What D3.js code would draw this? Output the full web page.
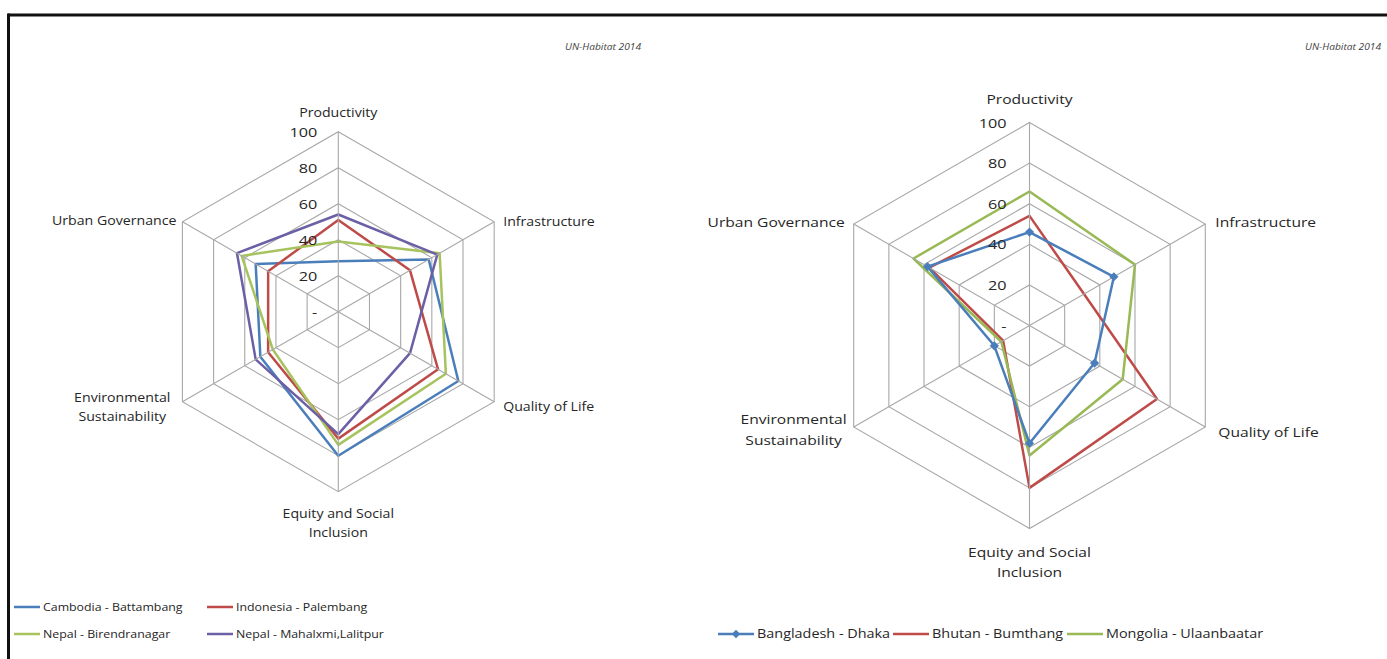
<!DOCTYPE html>
<html><head><meta charset="utf-8">
<script src="https://cdn.jsdelivr.net/npm/d3@7"></script>
<style>
body{margin:0;background:#fff}
svg{display:block}
text{font-family:"Open Sans",sans-serif;fill:#262626}
</style>
</head><body>
<svg id="c" width="1387" height="659"></svg>
<script>
// ---------- data ----------
const axes = ["Productivity","Infrastructure","Quality of Life","Equity and Social Inclusion","Environmental Sustainability","Urban Governance"];
const axisLabelLines = [["Productivity"],["Infrastructure"],["Quality of Life"],["Equity and Social","Inclusion"],["Environmental","Sustainability"],["Urban Governance"]];
const ticks = [0,20,40,60,80,100];
const tickLabels = ["-","20","40","60","80","100"];

const leftNames = ["Cambodia - Battambang","Indonesia - Palembang","Nepal - Birendranagar","Nepal - Mahalxmi,Lalitpur"];
const cambodia      = [28, 58, 77, 80, 50, 53];
const indonesia     = [51, 46, 64, 70.5, 45, 45];
const birendranagar = [39, 65, 69, 74, 42, 62];
const mahalaxmi     = [54, 63.5, 46, 68, 53, 65];

const rightNames = ["Bangladesh - Dhaka","Bhutan - Bumthang","Mongolia - Ulaanbaatar"];
const dhaka       = [46, 48, 37, 58, 20, 58];
const bumthang    = [54, 31, 72.5, 80, 15, 57];
const ulaanbaatar = [66, 60, 53, 64, 16, 66];

const sourceText = "UN-Habitat  2014";

// ---------- drawing ----------
const svg = d3.select("#c");
const SX = 1.2; // horizontal stretch of the text in the reference

// frame
svg.append("line").attr("x1",8).attr("x2",1387).attr("y1",15).attr("y2",15).attr("stroke","#111").attr("stroke-width",3);
svg.append("line").attr("x1",8.5).attr("x2",8.5).attr("y1",13.5).attr("y2",659).attr("stroke","#111").attr("stroke-width",3);

function stext(g, x, y, lines, opts){
  const t = g.append("text")
    .attr("transform",`translate(${x},${y}) scale(${SX},1)`)
    .attr("text-anchor", opts.anchor || "start")
    .style("font-size", opts.size + "px");
  if (opts.italic) t.style("font-style","italic");
  if (opts.fill) t.style("fill", opts.fill);
  lines.forEach((l,i)=>{
    t.append("tspan").attr("x",0).attr("dy", i===0 ? 0 : opts.lh).text(l);
  });
  return t;
}

function radar(cfg){
  const g = svg.append("g");
  const r = d3.scaleLinear().domain([0,100]).range([0,cfg.R]);
  const ang = d3.scaleLinear().domain([0,axes.length]).range([0,2*Math.PI]);
  const pt = (i,v)=>[cfg.cx + r(v)*Math.sin(ang(i)), cfg.cy - r(v)*Math.cos(ang(i))];
  const gg = g.append("g").attr("transform",`translate(${cfg.cx},${cfg.cy})`);
  const ring = d3.lineRadial().angle((d,i)=>ang(i)).curve(d3.curveLinearClosed);

  // grid rings
  ticks.filter(t=>t>0).forEach(t=>{
    gg.append("path").attr("d", ring.radius(()=>r(t))(axes))
      .attr("fill","none").attr("stroke","#a8a8a8").attr("stroke-width",1.1);
  });
  // spokes
  axes.forEach((a,i)=>{
    const p = pt(i,100);
    g.append("line").attr("x1",cfg.cx).attr("y1",cfg.cy).attr("x2",p[0]).attr("y2",p[1])
      .attr("stroke","#a8a8a8").attr("stroke-width",1.1);
  });
  // tick labels
  ticks.forEach((t,k)=>{
    stext(g, cfg.cx - cfg.tickGap, cfg.cy - r(t) + 5, [tickLabels[k]], {anchor:"end", size:cfg.tickSize});
  });
  // series
  cfg.series.forEach(s=>{
    gg.append("path").attr("d", d3.lineRadial().angle((d,i)=>ang(i)).radius(d=>r(d)).curve(d3.curveLinearClosed)(s.values))
      .attr("fill","none").attr("stroke",s.color).attr("stroke-width",2.5).attr("stroke-linejoin","round");
  });
  cfg.series.filter(s=>s.marker).forEach(s=>{
    s.values.forEach((v,i)=>{
      const p = pt(i,v);
      g.append("path").attr("d", d3.symbol().type(d3.symbolSquare).size(42)())
        .attr("transform",`translate(${p[0]},${p[1]}) rotate(45)`).attr("fill",s.color);
    });
  });
  // axis labels
  axes.forEach((a,i)=>{
    const p = pt(i,100), pl = cfg.place[i];
    const t = stext(g, p[0]+pl.dx, p[1]+pl.dy, axisLabelLines[i], {anchor:pl.anchor, size:cfg.labelSize, lh:cfg.labelLH});
    if (pl.fitRight !== undefined){
      const w = t.node().getBBox().width * SX;
      t.attr("transform",`translate(${p[0]-pl.fitRight-w/2},${p[1]+pl.dy}) scale(${SX},1)`);
    }
  });
  // source note
  stext(g, cfg.srcX, 50, [sourceText], {anchor:"end", size:8.5, italic:true, fill:"#444"});
  // legend
  cfg.legend.forEach((it,k)=>{
    const s = cfg.series.find(d=>d.name===it.name);
    g.append("line").attr("x1",it.x).attr("x2",it.x+cfg.legLine).attr("y1",it.y).attr("y2",it.y)
      .attr("stroke",s.color).attr("stroke-width",2.5);
    if (s.marker){
      g.append("path").attr("d", d3.symbol().type(d3.symbolSquare).size(36)())
        .attr("transform",`translate(${it.x+cfg.legLine/2},${it.y}) rotate(45)`).attr("fill",s.color);
    }
    stext(g, it.x+cfg.legLine+3, it.y+4, [it.name], {anchor:"start", size:cfg.legSize});
  });
}

radar({
  cx:338.3, cy:311.7, R:180, tickGap:21, tickSize:13.5, labelSize:11.8, labelLH:19,
  srcX:641, legLine:26, legSize:10.3,
  series:[
    {name:leftNames[0], values:cambodia, color:"#4a7ebb"},
    {name:leftNames[1], values:indonesia, color:"#be4b48"},
    {name:leftNames[2], values:birendranagar, color:"#a7c35e"},
    {name:leftNames[3], values:mahalaxmi, color:"#6b5fa6"}
  ],
  place:[
    {anchor:"middle", dx:0, dy:-15},
    {anchor:"start", dx:9, dy:4},
    {anchor:"start", dx:9, dy:9},
    {anchor:"middle", dx:0, dy:26},
    {anchor:"middle", dx:0, dy:0, fitRight:12},
    {anchor:"end", dx:-6, dy:3}
  ],
  legend:[
    {name:leftNames[0], x:14, y:607},
    {name:leftNames[1], x:207, y:607},
    {name:leftNames[2], x:14, y:634},
    {name:leftNames[3], x:207, y:634}
  ]
});

radar({
  cx:1029.5, cy:325.5, R:203, tickGap:23, tickSize:13.5, labelSize:13, labelLH:21,
  srcX:1381, legLine:36, legSize:12,
  series:[
    {name:rightNames[1], values:bumthang, color:"#be4b48"},
    {name:rightNames[2], values:ulaanbaatar, color:"#98b954"},
    {name:rightNames[0], values:dhaka, color:"#4a7ebb", marker:true}
  ],
  place:[
    {anchor:"middle", dx:0, dy:-19},
    {anchor:"start", dx:10, dy:3},
    {anchor:"start", dx:13, dy:10},
    {anchor:"middle", dx:0, dy:28},
    {anchor:"middle", dx:0, dy:-3, fitRight:7},
    {anchor:"end", dx:-9, dy:3}
  ],
  legend:[
    {name:rightNames[0], x:718, y:634},
    {name:rightNames[1], x:893, y:634},
    {name:rightNames[2], x:1067, y:634}
  ]
});
</script>
</body></html>
